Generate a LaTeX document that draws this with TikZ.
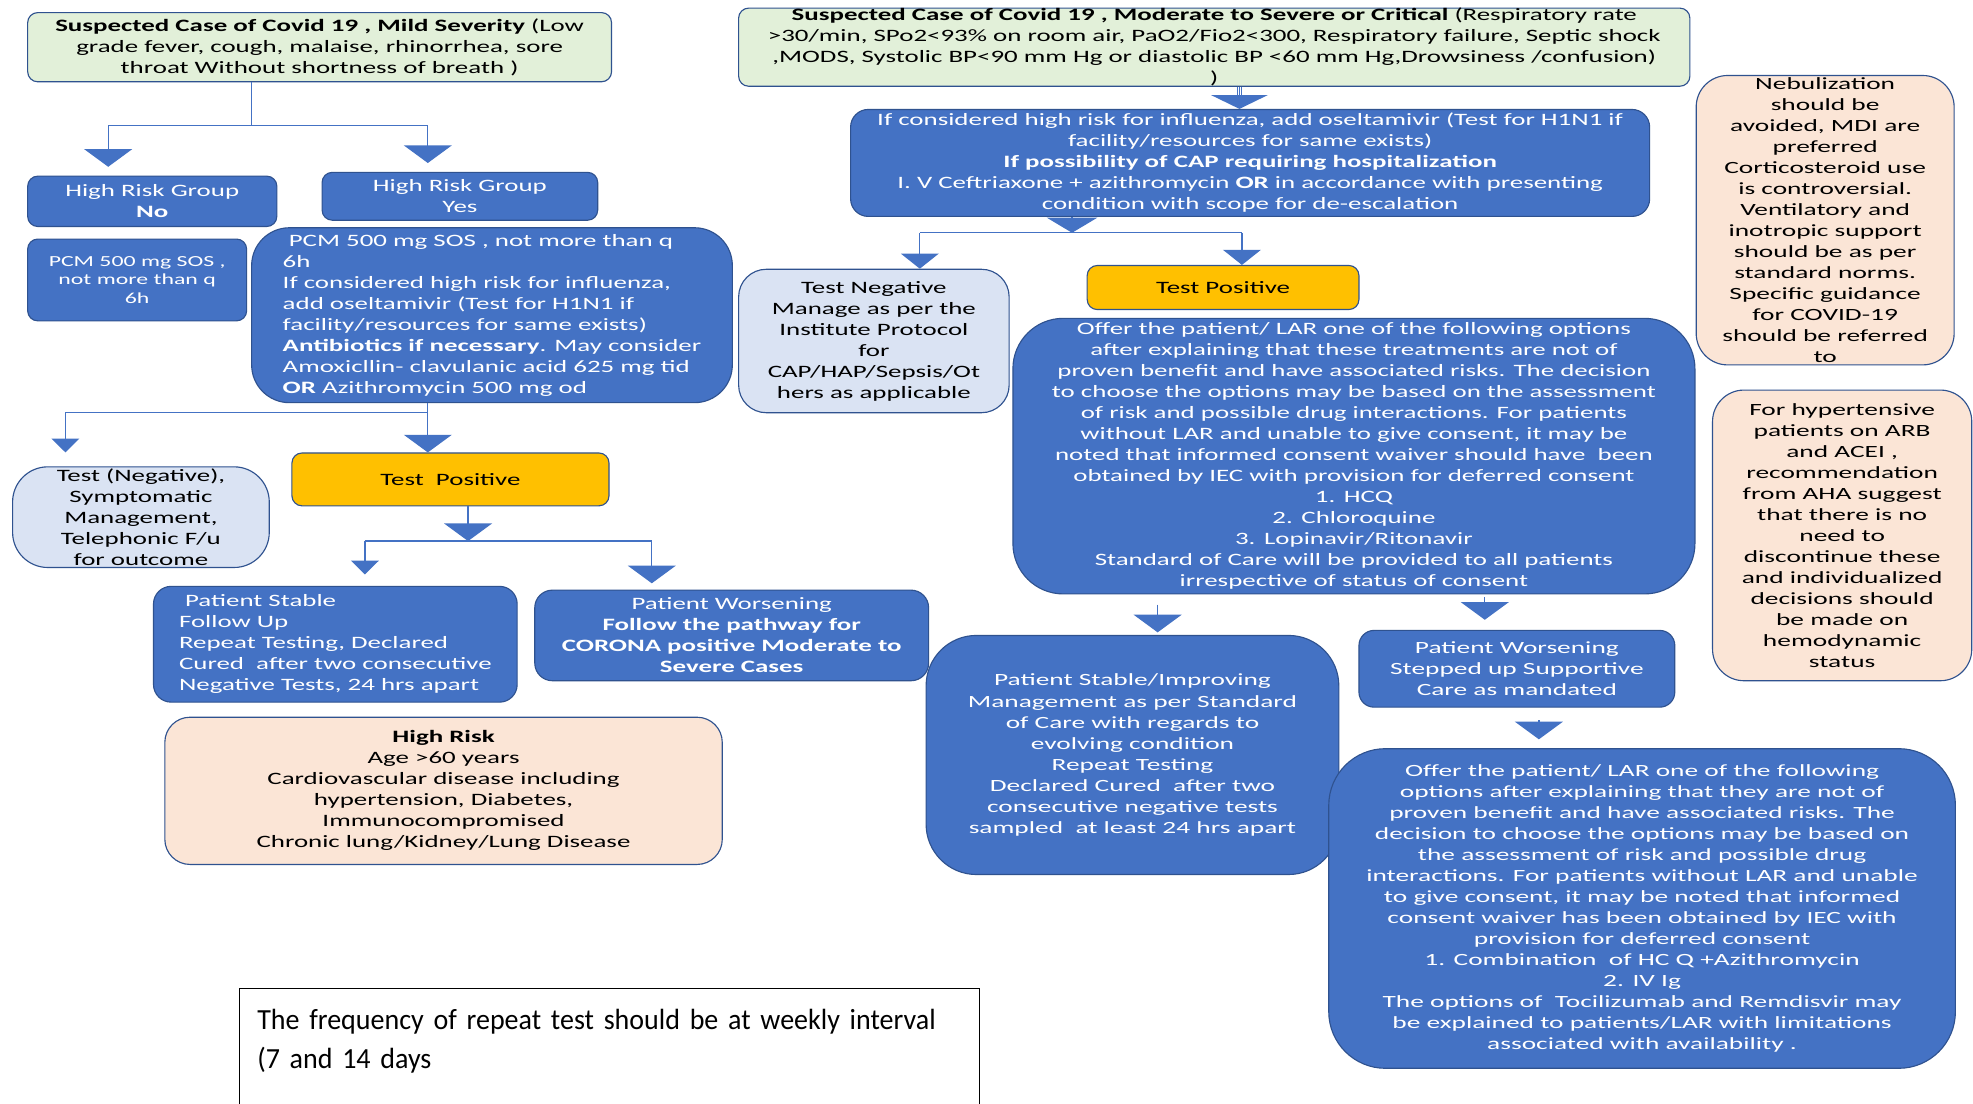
\documentclass[tikz,border=0pt]{standalone}
\usepackage{fontspec}
\usepackage{xcolor}
\usepackage{tikz}
\usetikzlibrary{arrows.meta,positioning,calc}
\newfontfamily\boxfont{Carlito}[FakeStretch=1.55]
\newfontfamily\widefont{Carlito}[FakeStretch=1.6]
\newfontfamily\notefont{Carlito}[FakeStretch=0.96]
\newcommand{\boxtext}{\boxfont\fontsize{13.8}{16.7}\selectfont}
\newcommand{\widetext}{\widefont\fontsize{13.6}{16.7}\selectfont}
\newcommand{\smalltext}{\boxfont\fontsize{12.2}{14.5}\selectfont}
\newcommand{\notetext}{\notefont\fontsize{23.2}{31}\selectfont}
\definecolor{boxblue}{HTML}{4472C4}
\definecolor{edgeblue}{HTML}{2F528F}
\definecolor{paleblue}{HTML}{DAE3F3}
\definecolor{palegreen}{HTML}{E2F0D9}
\definecolor{peach}{HTML}{FBE5D6}
\definecolor{amber}{HTML}{FFC000}

\begin{document}
\begin{tikzpicture}[
  x=1pt, y=-1pt,
  base/.style={rectangle, draw=edgeblue, line width=0.9pt, align=center, inner sep=0pt, rounded corners=8pt, font=\boxtext},
  bluebox/.style={base, fill=boxblue, text=white},
  palebox/.style={base, fill=paleblue, text=black},
  greenbox/.style={base, fill=palegreen, text=black},
  peachbox/.style={base, fill=peach, text=black},
  yellowbox/.style={base, fill=amber, text=black},
  notebox/.style={rectangle, draw=black, line width=0.9pt, align=left, inner xsep=14pt, inner ysep=0pt, font=\notetext},
  link/.style={draw=boxblue, line width=1pt},
  bigarrow/.style={link, -{Triangle[width=38pt,length=14pt]}},
  midarrow/.style={link, -{Triangle[width=30pt,length=12pt]}},
  smallarrow/.style={link, -{Triangle[width=22pt,length=11pt]}}
]
\path[use as bounding box, fill=white] (0,0) rectangle (1568,877);

\node[greenbox, minimum width=464pt, minimum height=55pt] (mild) at (254,37.5) {\textbf{Suspected Case of Covid 19 , Mild Severity} (Low\\grade fever, cough, malaise, rhinorrhea, sore\\throat Without shortness of breath )};
\node[bluebox, minimum width=198pt, minimum height=40pt] (hrno) at (121,160) {High Risk Group\\\textbf{No}};
\node[bluebox, minimum width=219pt, minimum height=38pt] (hryes) at (365.5,156) {High Risk Group\\Yes};
\node[bluebox, font=\smalltext, minimum width=174pt, minimum height=65pt] (pcmno) at (109,222.5) {PCM 500 mg SOS ,\\not more than q\\6h};
\node[bluebox, align=left, rounded corners=30pt, minimum width=382pt, minimum height=139pt] (pcmyes) at (391,250.5) {\ PCM 500 mg SOS , not more than q\\6h\\If considered high risk for influenza,\\add oseltamivir (Test for H1N1 if\\facility/resources for same exists)\\\textbf{Antibiotics if necessary}. May consider\\Amoxicllin- clavulanic acid 625 mg tid\\\textbf{OR} Azithromycin 500 mg od};
\node[palebox, rounded corners=28pt, minimum width=204pt, minimum height=80pt] (testneg1) at (112,411) {Test (Negative),\\Symptomatic\\Management,\\Telephonic F/u\\for outcome};
\node[yellowbox, minimum width=252pt, minimum height=42pt] (testpos1) at (358,381) {Test\ \ Positive};
\node[bluebox, align=left, rounded corners=14pt, minimum width=289pt, minimum height=92pt] (stable1) at (266.5,512) {\ Patient Stable\\Follow Up\\Repeat Testing, Declared\\Cured\ \ after two consecutive\\Negative Tests, 24 hrs apart};
\node[bluebox, rounded corners=14pt, minimum width=313pt, minimum height=72pt] (worse1) at (581.5,505) {Patient Worsening\\\textbf{Follow the pathway for}\\\textbf{CORONA positive Moderate to}\\\textbf{Severe Cases}};
\node[peachbox, rounded corners=20pt, minimum width=443pt, minimum height=117pt] (highrisk) at (352.5,628.5) {\textbf{High Risk}\\Age >60 years\\Cardiovascular disease including\\hypertension, Diabetes,\\Immunocompromised\\Chronic lung/Kidney/Lung Disease};
\node[notebox, anchor=north west, text width=560pt, minimum height=112pt] (note) at (190,785) {The frequency of repeat test should be at weekly interval\\(7 and 14 days\\\mbox{}};

\node[greenbox, minimum width=756pt, minimum height=61pt] (modsev) at (965,37.5) {\textbf{Suspected Case of Covid 19 , Moderate to Severe or Critical} (Respiratory rate\\>30/min, SPo2<93\% on room air, PaO2/Fio2<300, Respiratory failure, Septic shock\\,MODS, Systolic BP<90 mm Hg or diastolic BP <60 mm Hg,Drowsiness /confusion)\\)};
\node[bluebox, rounded corners=14pt, minimum width=635pt, minimum height=85pt] (flu) at (993.5,129.5) {If considered high risk for influenza, add oseltamivir (Test for H1N1 if\\facility/resources for same exists)\\\textbf{If possibility of CAP requiring hospitalization}\\I. V Ceftriaxone + azithromycin \textbf{OR} in accordance with presenting\\condition with scope for de-escalation};
\node[palebox, rounded corners=22pt, minimum width=215pt, minimum height=114pt] (testneg2) at (694.5,271) {Test Negative\\Manage as per the\\Institute Protocol\\for\\CAP/HAP/Sepsis/Ot\\hers as applicable};
\node[yellowbox, minimum width=216pt, minimum height=35pt] (testpos2) at (972,228.5) {Test Positive};
\node[bluebox, rounded corners=40pt, minimum width=542pt, minimum height=219pt] (offer1) at (1076,362.5) {Offer the patient/ LAR one of the following options\\after explaining that these treatments are not of\\proven benefit and have associated risks. The decision\\to choose the options may be based on the assessment\\of risk and possible drug interactions. For patients\\without LAR and unable to give consent, it may be\\noted that informed consent waiver should have\ \ been\\obtained by IEC with provision for deferred consent\\1.\enskip HCQ\\2.\enskip Chloroquine\\3.\enskip Lopinavir/Ritonavir\\Standard of Care will be provided to all patients\\irrespective of status of consent};
\node[bluebox, font=\widetext, rounded corners=40pt, minimum width=328pt, minimum height=190pt] (stableimp) at (900,600) {Patient Stable/Improving\\Management as per Standard\\of Care with regards to\\evolving condition\\Repeat Testing\\Declared Cured\ \ after two\\consecutive negative tests\\sampled\ \ at least 24 hrs apart};
\node[bluebox, font=\widetext, rounded corners=12pt, minimum width=251pt, minimum height=61pt] (worse2) at (1205.5,531.5) {Patient Worsening\\Stepped up Supportive\\Care as mandated};
\node[bluebox, font=\widetext, rounded corners=45pt, minimum width=498pt, minimum height=254pt] (offer2) at (1305,722) {Offer the patient/ LAR one of the following\\options after explaining that they are not of\\proven benefit and have associated risks. The\\decision to choose the options may be based on\\the assessment of risk and possible drug\\interactions. For patients without LAR and unable\\to give consent, it may be noted that informed\\consent waiver has been obtained by IEC with\\provision for deferred consent\\1.\enskip Combination\ \ of HC Q +Azithromycin\\2.\enskip IV Ig\\The options of\ \ Tocilizumab and Remdisvir may\\be explained to patients/LAR with limitations\\associated with availability .};
\node[peachbox, font=\widetext, rounded corners=25pt, minimum width=205pt, minimum height=230pt] (nebul) at (1450.5,175) {Nebulization\\should be\\avoided, MDI are\\preferred\\Corticosteroid use\\is controversial.\\Ventilatory and\\inotropic support\\should be as per\\standard norms.\\Specific guidance\\for COVID-19\\should be referred\\to};
\node[peachbox, font=\widetext, rounded corners=25pt, minimum width=206pt, minimum height=231pt] (hyper) at (1464,425.5) {For hypertensive\\patients on ARB\\and ACEI ,\\recommendation\\from AHA suggest\\that there is no\\need to\\discontinue these\\and individualized\\decisions should\\be made on\\hemodynamic\\status};

\coordinate (m0) at (200,100);
\coordinate (m1) at (86,100);
\coordinate (m2) at (340,100);
\coordinate (p0) at (340,328);
\coordinate (p1) at (52,328);
\coordinate (q0) at (372,430);
\coordinate (q1) at (290,430);
\coordinate (q2) at (518,430);
\coordinate (r0) at (985,0);
\coordinate (s0) at (852,185);
\coordinate (s1) at (731,185);
\coordinate (s2) at (987,185);
\coordinate (t1) at (920,0);
\coordinate (t2) at (1180,0);
\coordinate (t3) at (1223,0);

\draw[link] (mild.south -| m0) -- (m0);
\draw[link] (m1) -- (m2);
\draw[bigarrow, shorten >=7pt] (m1) -- (hrno.north -| m1);
\draw[bigarrow, shorten >=7pt] (m2) -- (hryes.north -| m2);
\draw[link] (p1) -- (p0);
\draw[bigarrow] (pcmyes.south -| p0) -- (testpos1.north -| p0);
\draw[smallarrow, shorten >=11pt] (p1) -- (testneg1.north -| p1);
\draw[link] (q1) -- (q2);
\draw[bigarrow] (testpos1.south -| q0) -- (q0);
\draw[smallarrow, shorten >=9pt] (q1) -- (stable1.north -| q1);
\draw[bigarrow, shorten >=5pt] (q2) -- (worse1.north -| q2);

\draw[link, double=white, double distance=2pt] (modsev.south -| r0) -- ++(0,8);
\draw[bigarrow, -{Triangle[width=45pt,length=11pt]}] (modsev.south -| r0) -- (flu.north -| r0);
\draw[bigarrow, -{Triangle[width=40pt,length=12pt]}] (flu.south -| s0) -- (s0);
\draw[link] (s1) -- (s2);
\draw[midarrow] (s1) -- (testneg2.north -| s1);
\draw[midarrow] (s2) -- (testpos2.north -| s2);
\draw[bigarrow, shorten <=8pt, shorten >=2pt] (offer1.south -| t1) -- (stableimp.north -| t1);
\draw[bigarrow, shorten <=2pt, shorten >=8pt] (offer1.south -| t2) -- (worse2.north -| t2);
\draw[bigarrow, shorten <=10pt, shorten >=7pt] (worse2.south -| t3) -- (offer2.north -| t3);
\end{tikzpicture}
\end{document}
